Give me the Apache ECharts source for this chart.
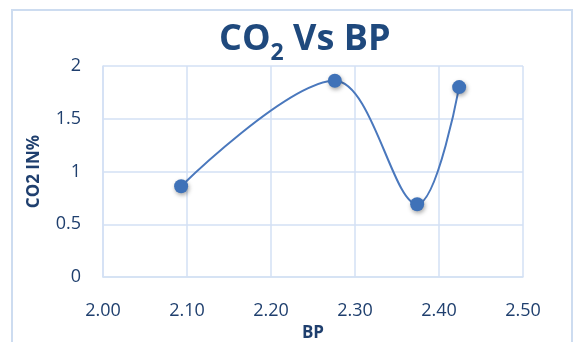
<!DOCTYPE html>
<html><head><meta charset="utf-8">
<script src="https://cdn.jsdelivr.net/npm/echarts@6/dist/echarts.min.js"></script>
<style>html,body{margin:0;padding:0;background:#fff}#c{width:576px;height:342px}</style>
</head><body><div id="c"></div>
<script>
var bpValues = [2.093, 2.276, 2.374, 2.424];
var co2Values = [0.86, 1.86, 0.69, 1.80];
var xTicks = [2.0, 2.5, 0.1];
var yTicks = [0, 2, 0.5];
var textColor = '#1f3f6e';
var gridColor = '#d3e1f4';
var chart = echarts.init(document.getElementById('c'));
chart.setOption({
  animation: false,
  backgroundColor: '#fff',
  graphic: [{type:'rect', shape:{x:12,y:10,width:560,height:345}, style:{fill:'none', stroke:'#cddcf0', lineWidth:2}, z:-1}],
  title: {
    text: '{a|CO}{s|2}{a| Vs BP}',
    left: 214, top: 12,
    textStyle: {
      rich: {
        a: {fontFamily:'Open Sans', fontWeight:'bold', fontSize:36, color:'#1f497d', lineHeight:46},
        s: {fontFamily:'Open Sans', fontWeight:'bold', fontSize:23, color:'#1f497d', lineHeight:46, padding:[27,0,0,0]}
      }
    }
  },
  grid: {left:103, right:53, top:66, bottom:65, outerBoundsMode:'none', containLabel:false},
  xAxis: {
    type:'value', min:xTicks[0], max:xTicks[1], interval:xTicks[2],
    name:'BP', nameLocation:'middle', nameGap:39,
    nameTextStyle:{fontFamily:'Open Sans', fontWeight:'bold', fontSize:17, color:textColor},
    axisLine:{show:true, lineStyle:{color:gridColor, width:1.5}},
    axisTick:{show:false},
    splitLine:{show:true, lineStyle:{color:gridColor, width:1.5}},
    axisLabel:{fontFamily:'Open Sans', fontSize:18, color:textColor, margin:25, formatter:function(v){return v.toFixed(2);}}
  },
  yAxis: {
    type:'value', min:yTicks[0], max:yTicks[1], interval:yTicks[2],
    name:'CO2 IN%', nameLocation:'middle', nameGap:60, nameRotate:90,
    nameTextStyle:{fontFamily:'Open Sans', fontWeight:'bold', fontSize:17, color:textColor},
    axisLine:{show:true, lineStyle:{color:gridColor, width:1.5}},
    axisTick:{show:false},
    splitLine:{show:true, lineStyle:{color:gridColor, width:1.5}},
    axisLabel:{fontFamily:'Open Sans', fontSize:18, color:textColor, margin:22}
  },
  series: [{
    type:'line', smooth:0.35,
    data: bpValues.map(function(x,i){return [x, co2Values[i]];}),
    symbol:'circle', symbolSize:14,
    lineStyle:{color:'#4a78bd', width:2},
    itemStyle:{color:'#3f72b8', shadowColor:'rgba(0,0,0,0.35)', shadowBlur:4, shadowOffsetX:1, shadowOffsetY:2}
  }]
});
</script></body></html>
